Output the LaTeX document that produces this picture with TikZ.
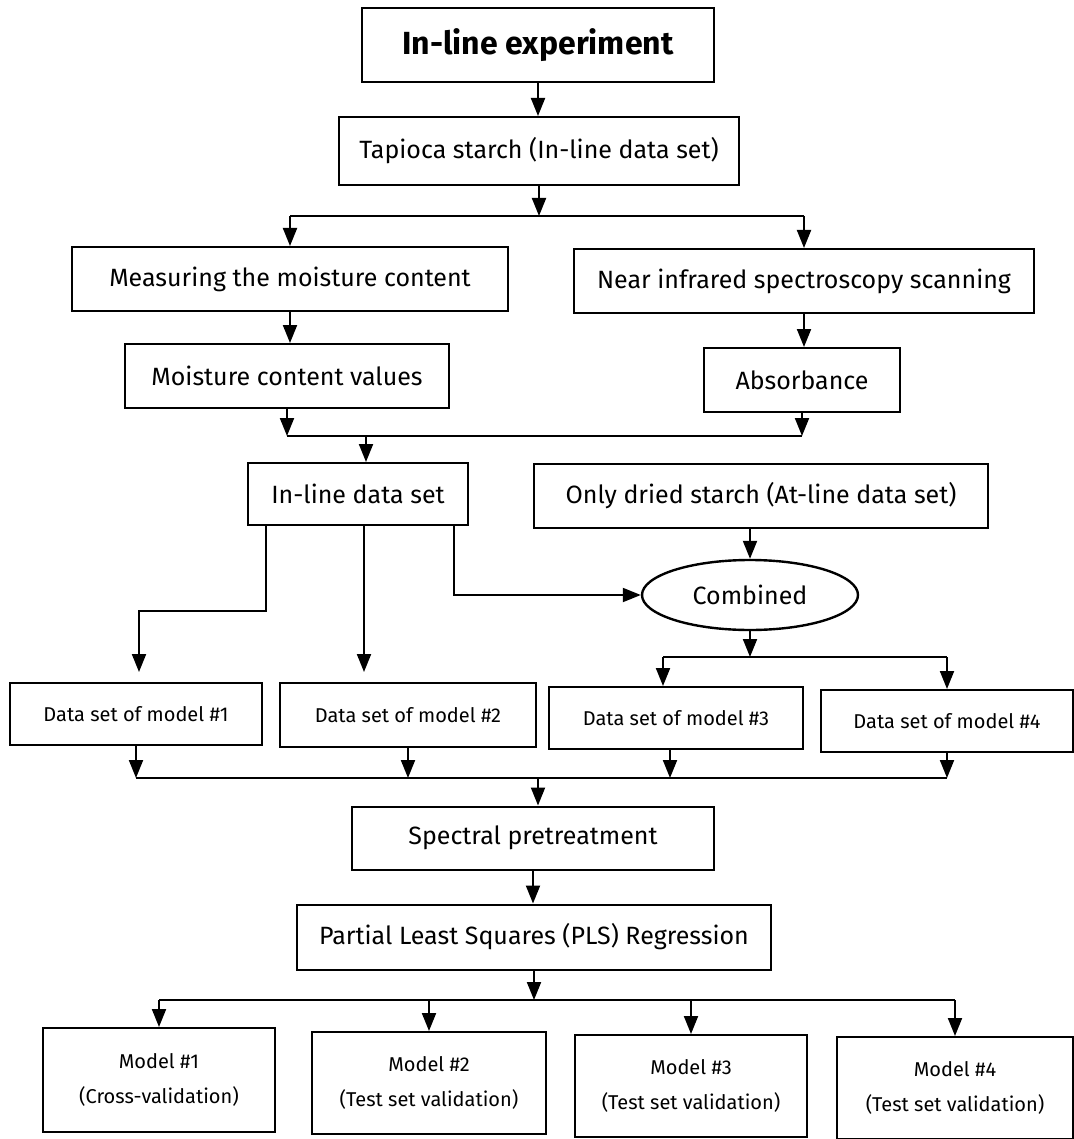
\documentclass[tikz,border=0pt]{standalone}
\usepackage{fontspec}
\setmainfont{Fira Sans}
\usetikzlibrary{arrows.meta,positioning,shapes.geometric}

\begin{document}
\begin{tikzpicture}[x=0.5pt, y=-0.5pt,
    box/.style={draw, line width=1pt, inner sep=2pt, font=\fontsize{12.5}{15}\selectfont},
    dsbox/.style={box, font=\fontsize{10}{12}\selectfont},
    modbox/.style={box, align=center, font=\fontsize{10}{17.5}\selectfont},
    oval/.style={ellipse, draw, line width=1.2pt, inner sep=1pt, font=\fontsize{12.5}{15}\selectfont},
    arr/.style={-{Triangle[length=9pt,width=7pt]}, line width=1pt},
    link/.style={line width=1pt}
  ]
    \useasboundingbox (0,0) rectangle (1074,1139);

    % top of the chart
    \node[box, font=\bfseries\fontsize{16}{19}\selectfont, minimum width=176pt, minimum height=37pt] (expt) at (538,45) {In-line experiment};
    \node[box, minimum width=200pt, minimum height=34pt] (tapioca) at (539,151) {Tapioca starch (In-line data set)};

    \node[box, minimum width=218pt, minimum height=32pt] (measure) at (290,279) {Measuring the moisture content};
    \node[box, minimum width=230pt, minimum height=32pt] (nir) at (804,281) {Near infrared spectroscopy scanning};
    \node[box, minimum width=162pt, minimum height=32pt] (mcvalues) at (287,376) {Moisture content values};
    \node[box, minimum width=98pt, minimum height=32pt] (absorb) at (802,380) {Absorbance};

    \node[box, minimum width=110pt, minimum height=31pt] (inline) at (358,494) {In-line data set};
    \node[box, minimum width=227pt, minimum height=32pt] (dried) at (761,496) {Only dried starch (At-line data set)};
    \node[oval, minimum width=108pt, minimum height=35pt] (combined) at (750,595) {Combined};

    % data sets
    \node[dsbox, minimum width=126pt, minimum height=31pt] (ds1) at (136,714) {Data set of model \#1};
    \node[dsbox, minimum width=128pt, minimum height=32pt] (ds2) at (408,715) {Data set of model \#2};
    \node[dsbox, minimum width=127pt, minimum height=31pt] (ds3) at (676,718) {Data set of model \#3};
    \node[dsbox, minimum width=126pt, minimum height=31pt] (ds4) at (947,721) {Data set of model \#4};

    \node[box, minimum width=181pt, minimum height=31.5pt] (spectral) at (533,838) {Spectral pretreatment};
    \node[box, minimum width=237pt, minimum height=32.5pt] (pls) at (534,937) {Partial Least Squares (PLS) Regression};

    % models
    \node[modbox, minimum width=116pt, minimum height=52pt] (m1) at (159,1080) {Model \#1\\(Cross-validation)};
    \node[modbox, minimum width=117pt, minimum height=51pt] (m2) at (429,1083) {Model \#2\\(Test set validation)};
    \node[modbox, minimum width=116pt, minimum height=51pt] (m3) at (691,1086) {Model \#3\\(Test set validation)};
    \node[modbox, minimum width=118pt, minimum height=51pt] (m4) at (955,1088) {Model \#4\\(Test set validation)};

    \coordinate (split1) at (539,216);
    \coordinate (join1) at (366,436);
    \coordinate (split2) at (750,657);
    \coordinate (join2) at (538,778);
    \coordinate (split3) at (536,1000);

    % connectors
    \draw[arr] (expt.south) -- (expt.south |- tapioca.north);
    \draw[arr] (tapioca.south) -- (split1);
    \draw[link] (measure.north |- split1) -- (nir.north |- split1);
    \draw[arr] (measure.north |- split1) -- (measure.north);
    \draw[arr] (nir.north |- split1) -- (nir.north);
    \draw[arr] (measure.south) -- (measure.south |- mcvalues.north);
    \draw[arr] (nir.south) -- (nir.south |- absorb.north);

    \draw[arr] (mcvalues.south) -- (mcvalues.south |- join1);
    \draw[arr] (absorb.south) -- (absorb.south |- join1);
    \draw[link] (mcvalues.south |- join1) -- (absorb.south |- join1);
    \draw[arr] (join1) -- (join1 |- inline.north);

    \draw[arr, shorten >=5pt] ([xshift=-46pt]inline.south) -- ++(0,85) -| ([xshift=1.5pt]ds1.north);
    \draw[arr, shorten >=5pt] ([xshift=3pt]inline.south) -- ([xshift=3pt]inline.south |- ds2.north);
    \draw[arr] ([xshift=48pt]inline.south) |- (combined.west);
    \draw[arr] (combined.north |- dried.south) -- (combined.north);

    \draw[arr] (combined.south) -- (split2);
    \draw[link] ([xshift=-6.5pt]ds3.north |- split2) -- (ds4.north |- split2);
    \draw[arr] ([xshift=-6.5pt]ds3.north |- split2) -- ([xshift=-6.5pt]ds3.north);
    \draw[arr] (ds4.north |- split2) -- (ds4.north);

    \foreach \d in {ds1,ds2,ds4}
      \draw[arr] (\d.south) -- (\d.south |- join2);
    \draw[arr] ([xshift=-3pt]ds3.south) -- ([xshift=-3pt]ds3.south |- join2);
    \draw[link] (ds1.south |- join2) -- (ds4.south |- join2);
    \draw[arr] (join2) -- (join2 |- spectral.north);

    \draw[arr] (spectral.south) -- (spectral.south |- pls.north);
    \draw[arr] (pls.south) -- (pls.south |- split3);
    \draw[link] (m1.north |- split3) -- (m4.north |- split3);
    \foreach \m in {m1,m2,m3,m4}
      \draw[arr] (\m.north |- split3) -- (\m.north);
\end{tikzpicture}
\end{document}
